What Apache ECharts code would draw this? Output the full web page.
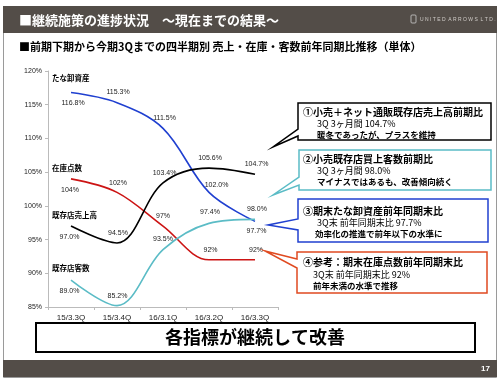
<!DOCTYPE html>
<html><head><meta charset="utf-8">
<script src="https://cdn.jsdelivr.net/npm/echarts@6/dist/echarts.min.js"></script>
<style>html,body{margin:0;padding:0;background:#fff;}#c{width:500px;height:381px;}</style>
</head><body><div id="c"></div>
<script>
var categories = ['15/3.3Q','15/3.4Q','16/3.1Q','16/3.2Q','16/3.3Q'];
var yTicks = [85, 90, 95, 100, 105, 110, 115, 120];
var inventoryValue = [116.8, 115.3, 111.5, 102.0, 97.7];   // たな卸資産
var inventoryCount = [104, 102, 97, 92, 92];               // 在庫点数
var existingSales = [97.0, 94.5, 103.4, 105.6, 104.7];     // 既存店売上高
var existingCustomers = [89.0, 85.2, 93.5, 97.4, 98.0];    // 既存店客数
var seriesNames = ['たな卸資産', '在庫点数', '既存店売上高', '既存店客数'];

// label offsets (style only)
var offBlue = [[2,10],[1,-11],[1.5,-10],[7.5,-7],[1.5,10]];
var offRed = [[-1,11],[1,-9],[0,-10],[1.5,-10],[1,-10]];
var offBlack = [[-1.5,11],[1,-10],[1.5,-10],[1,-10],[1.5,-10]];
var offCyan = [[-1.5,11],[0.5,-10],[0,-11],[1,-11],[2,-10]];

var FONT = '"Noto Sans CJK JP", "Noto Sans", sans-serif';
var LFONT = 'Arial, "Liberation Sans", "Noto Sans CJK JP", sans-serif';

function mk(name, vals, offs, color, dec) {
  return {
    name: name, type: 'line', smooth: 0.35, symbol: 'circle', symbolSize: 0,
    lineStyle: { color: color, width: 1.6 }, itemStyle: { color: color },
    data: vals.map(function (v, i) {
      return { value: v, label: { offset: offs[i] } };
    }),
    label: {
      show: true, position: 'inside', fontSize: 7, fontFamily: LFONT, color: '#222',
      formatter: function (p) { return (dec ? p.value.toFixed(1) : p.value) + '%'; }
    },
    z: 3
  };
}

function txt(t, x, y, size, weight, color, align, extra) {
  var s = { text: t, x: x, y: y, font: (weight || 'normal') + ' ' + size + 'px ' + FONT,
    fill: color || '#000', textAlign: align || 'left', textVerticalAlign: 'middle',
    align: align || 'left', verticalAlign: 'middle' };
  if (extra) for (var k in extra) s[k] = extra[k];
  return { type: 'text', z: 20, style: s };
}

function box(points, color) {
  return { type: 'polygon', z: 15, shape: { points: points },
    style: { fill: '#fff', stroke: color, lineWidth: 1.5 } };
}

var graphics = [
  { type: 'rect', z: 1, shape: { x: 3.5, y: 6.5, width: 493, height: 371 }, style: { fill: 'none', stroke: '#9a9a9a', lineWidth: 1 } },
  { type: 'rect', z: 2, shape: { x: 3, y: 6, width: 494, height: 27 }, style: { fill: '#534d48' } },
  txt('■継続施策の進捗状況　～現在までの結果～', 19, 20, 13, 'bold', '#fff'),
  { type: 'rect', z: 20, shape: { x: 411, y: 15, width: 5, height: 8, r: 1 }, style: { fill: 'none', stroke: '#ccc', lineWidth: 0.8 } },
  txt('U N I T E D  A R R O W S  L T D .', 420, 20, 5, 'normal', '#d0ccc8', 'left', { font: 'normal 5px ' + LFONT }),
  txt('■前期下期から今期3Qまでの四半期別 売上・在庫・客数前年同期比推移（単体）', 19, 47, 11, 'bold', '#000'),
  txt(seriesNames[0], 52, 78, 7.5, 'bold', '#000'),
  txt(seriesNames[1], 52, 168, 7.5, 'bold', '#000'),
  txt(seriesNames[2], 52, 215, 7.5, 'bold', '#000'),
  txt(seriesNames[3], 52, 268, 7.5, 'bold', '#000'),
  box([[298,103],[491,103],[491,140],[298,140],[298,136],[273,147],[298,129]], '#000'),
  box([[299,150],[491,150],[491,190],[299,190],[299,185],[273,195],[299,177]], '#5bbcc6'),
  box([[298,199],[488,199],[488,242],[298,242],[298,230],[268,225],[298,219]], '#2040d0'),
  box([[297,252],[487,252],[487,293],[297,293],[297,268],[265,251],[297,259]], '#e04a20'),
  txt('①小売＋ネット通販既存店売上高前期比', 303, 112, 10, 'bold', '#000'),
  txt('3Q 3ヶ月間 104.7%', 317, 124, 9, 'normal', '#000'),
  txt('暖冬であったが、プラスを維持', 317, 135, 8.5, 'bold', '#000'),
  txt('②小売既存店買上客数前期比', 303, 159, 10, 'bold', '#000'),
  txt('3Q 3ヶ月間 98.0%', 317, 171, 9, 'normal', '#000'),
  txt('マイナスではあるも、改善傾向続く', 317, 182, 8.5, 'bold', '#000'),
  txt('③期末たな卸資産前年同期末比', 303, 211, 10, 'bold', '#000'),
  txt('3Q末 前年同期末比 97.7%', 317, 223, 9, 'normal', '#000'),
  txt('効率化の推進で前年以下の水準に', 315, 234, 8.5, 'bold', '#000'),
  txt('④参考：期末在庫点数前年同期末比', 303, 262, 10, 'bold', '#000'),
  txt('3Q末 前年同期末比 92%', 313, 275, 9, 'normal', '#000'),
  txt('前年未満の水準で推移', 313, 286, 8.5, 'bold', '#000'),
  { type: 'rect', z: 15, shape: { x: 36, y: 323, width: 439, height: 29 }, style: { fill: '#fff', stroke: '#000', lineWidth: 2 } },
  txt('各指標が継続して改善', 255, 337.5, 18, 'bold', '#000', 'center'),
  { type: 'rect', z: 2, shape: { x: 3, y: 360, width: 494, height: 17 }, style: { fill: '#534d48' } },
  txt('17', 490, 369, 8, 'bold', '#fff', 'right', { font: 'bold 8px ' + LFONT })
];

var chart = echarts.init(document.getElementById('c'), null, { renderer: 'canvas' });
chart.setOption({
  animation: false,
  backgroundColor: '#fff',
  grid: { left: 48, right: 222, top: 71, bottom: 74 },
  xAxis: {
    type: 'category', data: categories, boundaryGap: true,
    axisLine: { lineStyle: { color: '#bbb', width: 1 } },
    axisTick: { show: true, length: 3, lineStyle: { color: '#bbb' } },
    axisLabel: { color: '#222', fontSize: 8, fontFamily: LFONT, margin: 7 }
  },
  yAxis: {
    type: 'value', min: yTicks[0], max: yTicks[yTicks.length - 1], interval: 5,
    axisLine: { show: true, lineStyle: { color: '#bbb', width: 1 } },
    axisTick: { show: true, length: 3, lineStyle: { color: '#bbb' } },
    splitLine: { show: false },
    axisLabel: { color: '#222', fontSize: 7, fontFamily: LFONT, margin: 6, formatter: '{value}%' }
  },
  series: [
    mk(seriesNames[0], inventoryValue, offBlue, '#2040d0', true),
    mk(seriesNames[1], inventoryCount, offRed, '#cc1414', false),
    mk(seriesNames[2], existingSales, offBlack, '#000', true),
    mk(seriesNames[3], existingCustomers, offCyan, '#5bbcc6', true)
  ],
  graphic: { elements: graphics }
});
</script></body></html>
